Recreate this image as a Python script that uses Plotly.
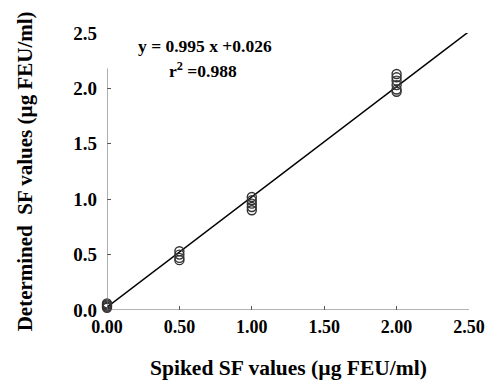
import plotly.graph_objects as go

# Data
spiked_x = [0.0]*5 + [0.5]*4 + [1.0]*5 + [2.0]*6
determined_y = [0.02, 0.03, 0.04, 0.05, 0.06,
                0.53, 0.50, 0.47, 0.45,
                1.02, 0.99, 0.96, 0.93, 0.90,
                2.13, 2.10, 2.07, 2.03, 1.99, 1.97]
slope = 0.995
intercept = 0.026
fit_x = [0.0, 2.5]
fit_y = [slope * v + intercept for v in fit_x]
x_ticks = [0.0, 0.5, 1.0, 1.5, 2.0, 2.5]
y_ticks = [0.0, 0.5, 1.0, 1.5, 2.0, 2.5]

FONT = "Liberation Serif"

fig = go.Figure()
fig.add_trace(go.Scatter(x=fit_x, y=fit_y, mode="lines",
                         line=dict(color="black", width=1.5),
                         showlegend=False, cliponaxis=False))
fig.add_trace(go.Scatter(x=spiked_x, y=determined_y, mode="markers",
                         marker=dict(symbol="circle-open", size=9,
                                     color="#333333", line=dict(width=1.4)),
                         showlegend=False, cliponaxis=False))

# axis lines (y-axis line stops near 2.2 in the original)
fig.add_shape(type="line", xref="x", yref="y", x0=0, x1=0, y0=0, y1=2.18,
              line=dict(color="#777777", width=1.2))
fig.add_shape(type="line", xref="x", yref="y", x0=0, x1=2.5, y0=0, y1=0,
              line=dict(color="#666666", width=1.2))

fig.add_annotation(x=0.2, y=2.385, xref="x", yref="y", xanchor="left",
                   text="<b>y = 0.995 x +0.026</b>", showarrow=False,
                   font=dict(family=FONT, size=17.5, color="black"))
fig.add_annotation(x=0.665, y=2.165, xref="x", yref="y", xanchor="center",
                   text="<b>r<sup>2</sup> =0.988</b>", showarrow=False,
                   font=dict(family=FONT, size=17.5, color="black"))

# axis titles (paper coords relative to plot area)
fig.add_annotation(x=0.5, y=-0.209, xref="paper", yref="paper",
                   xanchor="center", yanchor="middle", showarrow=False,
                   text="<b>Spiked SF values (µg FEU/ml)</b>",
                   font=dict(family=FONT, size=21.5, color="black"))
fig.add_annotation(x=-0.227, y=0.5, xref="paper", yref="paper",
                   xanchor="center", yanchor="middle", showarrow=False,
                   textangle=-90,
                   text="<b>Determined  SF values (µg FEU/ml)</b>",
                   font=dict(family=FONT, size=21, color="black"))

# The page adds an 8px body margin, so the figure is 8px smaller and offset.
fig.update_layout(
    width=489, height=375,
    margin=dict(l=99, r=20, t=25, b=73),
    paper_bgcolor="white", plot_bgcolor="white",
    font=dict(family=FONT, color="black"),
    xaxis=dict(range=[0, 2.5], tickvals=x_ticks, tickformat=".2f",
               ticks="inside", ticklen=4, tickcolor="#555555",
               showline=False, showgrid=False, zeroline=False,
               tickfont=dict(family=FONT, size=18, color="black", weight="bold"),
               ticklabelstandoff=4),
    yaxis=dict(range=[0, 2.5], tickvals=y_ticks, tickformat=".1f",
               ticks="inside", ticklen=4, tickcolor="#555555",
               showline=False, showgrid=False, zeroline=False,
               tickfont=dict(family=FONT, size=19, color="black", weight="bold"),
               ticklabelstandoff=9),
)

fig.write_html("out.html")
